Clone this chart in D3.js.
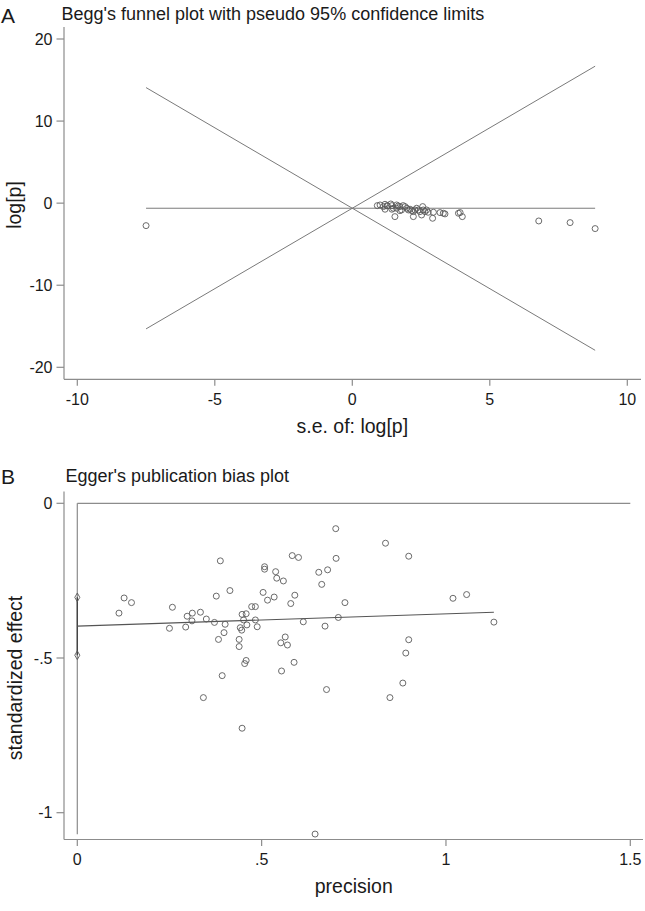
<!DOCTYPE html>
<html><head><meta charset="utf-8">
<script src="https://cdn.jsdelivr.net/npm/d3@7"></script>
<style>
body{margin:0;background:#fff;}
svg text{font-family:"Liberation Sans",Arial,sans-serif;fill:#1a1a1a;}
</style></head>
<body><svg id="c" width="645" height="911"></svg>
<script>
// ---- Panel A: Begg's funnel plot ----
const beggTicksX = [-10, -5, 0, 5, 10];
const beggTicksY = [20, 10, 0, -10, -20];
const beggCenter = -0.62;          // pooled log[p]
const beggSeRange = [-7.5, 8.83];  // extent of funnel lines
const beggSe = [0.91,1.01,1.13,1.19,1.27,1.40,1.44,1.49,1.55,1.61,1.67,1.73,1.79,1.85,1.92,1.98,2.04,2.10,2.16,2.22,2.22,2.28,2.34,2.40,2.46,2.52,2.56,2.58,2.64,2.70,2.76,2.92,2.95,3.19,3.31,3.37,3.86,3.92,4.00,1.44,1.61,1.73,1.19,1.27,6.78,7.92,8.83,-7.5];
const beggLogp = [-0.30,-0.22,-0.42,-0.14,-0.34,-0.10,-0.30,-0.62,-1.64,-0.22,-0.34,-0.42,-0.83,-0.30,-0.42,-0.62,-0.83,-0.74,-0.91,-1.03,-1.64,-0.83,-0.62,-0.83,-1.03,-1.44,-0.42,-0.83,-1.03,-0.83,-1.11,-1.84,-1.11,-1.15,-1.23,-1.31,-1.23,-1.15,-1.64,-0.74,-0.62,-0.91,-0.74,-0.30,-2.17,-2.37,-3.10,-2.74];

// ---- Panel B: Egger's publication bias plot ----
const eggTicksX = [0, 0.5, 1, 1.5];
const eggTickLabelsX = ["0", ".5", "1", "1.5"];
const eggTicksY = [0, -0.5, -1];
const eggTickLabelsY = ["0", "-.5", "-1"];
const eggIntercept = -0.397;
const eggCI = [-0.304, -0.491];
const eggLineEnd = [1.13, -0.352];
const eggRefMin = -1.07;
const eggPrecision = [0.113,0.127,0.147,0.250,0.258,0.294,0.298,0.311,0.312,0.334,0.350,0.372,0.377,0.383,0.388,0.393,0.398,0.401,0.414,0.342,0.439,0.439,0.442,0.446,0.447,0.451,0.454,0.458,0.458,0.460,0.473,0.483,0.483,0.488,0.504,0.508,0.508,0.516,0.534,0.538,0.541,0.552,0.554,0.559,0.564,0.570,0.579,0.583,0.588,0.590,0.600,0.613,0.655,0.663,0.672,0.676,0.679,0.701,0.702,0.708,0.726,0.836,0.899,1.019,1.056,1.130,0.899,0.891,0.883,0.848,0.447,0.645];
const eggEffect = [-0.355,-0.306,-0.321,-0.404,-0.336,-0.400,-0.365,-0.380,-0.355,-0.352,-0.374,-0.385,-0.300,-0.440,-0.186,-0.557,-0.418,-0.391,-0.282,-0.628,-0.440,-0.463,-0.402,-0.410,-0.359,-0.377,-0.518,-0.357,-0.508,-0.393,-0.334,-0.334,-0.377,-0.399,-0.288,-0.205,-0.213,-0.313,-0.303,-0.221,-0.242,-0.451,-0.542,-0.251,-0.432,-0.458,-0.324,-0.169,-0.514,-0.297,-0.175,-0.383,-0.223,-0.262,-0.397,-0.602,-0.215,-0.082,-0.178,-0.369,-0.321,-0.129,-0.171,-0.307,-0.295,-0.384,-0.441,-0.484,-0.581,-0.628,-0.727,-1.069];

const svg = d3.select("#c");
const axisCol = "#8c8c8c", lineCol = "#7a7a7a", ptCol = "#5a5a5a";

function drawAxes(g, x, y, xTicks, xLabels, yTicks, yLabels, box, xTitle, yTitle, yTitleY, yTitleX) {
  g.append("line").attr("x1", box.left).attr("x2", box.left).attr("y1", box.top).attr("y2", box.bottom)
    .attr("stroke", axisCol).attr("stroke-width", 1.2);
  g.append("line").attr("x1", box.left).attr("x2", box.right).attr("y1", box.bottom).attr("y2", box.bottom)
    .attr("stroke", axisCol).attr("stroke-width", 1.2);
  yTicks.forEach((t, i) => {
    g.append("line").attr("x1", box.left - 7.5).attr("x2", box.left).attr("y1", y(t)).attr("y2", y(t))
      .attr("stroke", axisCol).attr("stroke-width", 1.2);
    g.append("text").attr("x", box.left - 11.5).attr("y", y(t)).attr("dy", "0.36em")
      .attr("text-anchor", "end").attr("font-size", 16).text(yLabels[i]);
  });
  xTicks.forEach((t, i) => {
    g.append("line").attr("x1", x(t)).attr("x2", x(t)).attr("y1", box.bottom).attr("y2", box.bottom + 6.5)
      .attr("stroke", axisCol).attr("stroke-width", 1.2);
    g.append("text").attr("x", x(t)).attr("y", box.bottom + 20).attr("dy", "0.36em")
      .attr("text-anchor", "middle").attr("font-size", 16).text(xLabels[i]);
  });
  g.append("text").attr("x", (x(xTicks[0]) + x(xTicks[xTicks.length - 1])) / 2).attr("y", box.bottom + 46.5)
    .attr("dy", "0.36em").attr("text-anchor", "middle").attr("font-size", 19.5).text(xTitle);
  g.append("text").attr("transform", `translate(${yTitleX},${yTitleY}) rotate(-90)`).attr("dy", "0.36em")
    .attr("text-anchor", "middle").attr("font-size", 19.5).text(yTitle);
}

// Panel A
{
  const g = svg.append("g");
  const x = d3.scaleLinear().domain([-10, 10]).range([77.3, 627.3]);
  const y = d3.scaleLinear().domain([20, -20]).range([39, 367.3]);
  const box = {left: 64, right: 641, top: 27, bottom: 379.3};
  g.append("text").attr("x", 1).attr("y", 22.5).attr("font-size", 21).text("A");
  g.append("text").attr("x", 61.5).attr("y", 19.5).attr("font-size", 18)
    .text("Begg's funnel plot with pseudo 95% confidence limits");
  drawAxes(g, x, y, beggTicksX, beggTicksX.map(String), beggTicksY, beggTicksY.map(String), box,
    "s.e. of: log[p]", "log[p]", 205, 13.5);
  const [s0, s1] = beggSeRange;
  const lines = [
    [[s0, beggCenter], [s1, beggCenter]],
    [[s0, beggCenter - 1.96 * s0], [s1, beggCenter - 1.96 * s1]],
    [[s0, beggCenter + 1.96 * s0], [s1, beggCenter + 1.96 * s1]]
  ];
  lines.forEach(l => g.append("line").attr("x1", x(l[0][0])).attr("y1", y(l[0][1]))
    .attr("x2", x(l[1][0])).attr("y2", y(l[1][1])).attr("stroke", lineCol).attr("stroke-width", 1));
  g.selectAll("circle").data(beggSe.map((s, i) => [s, beggLogp[i]])).join("circle")
    .attr("cx", d => x(d[0])).attr("cy", d => y(d[1])).attr("r", 3)
    .attr("fill", "none").attr("stroke", ptCol).attr("stroke-width", 0.9);
}

// Panel B
{
  const g = svg.append("g");
  const x = d3.scaleLinear().domain([0, 1.5]).range([77.3, 630.3]);
  const y = d3.scaleLinear().domain([0, -1]).range([503.3, 812.7]);
  const box = {left: 64, right: 643, top: 491.5, bottom: 839.5};
  g.append("text").attr("x", 1).attr("y", 484).attr("font-size", 21).text("B");
  g.append("text").attr("x", 65.5).attr("y", 481.5).attr("font-size", 18)
    .text("Egger's publication bias plot");
  drawAxes(g, x, y, eggTicksX, eggTickLabelsX, eggTicksY, eggTickLabelsY, box,
    "precision", "standardized effect", 678, 15);
  g.append("line").attr("x1", x(0)).attr("x2", x(1.5)).attr("y1", y(0)).attr("y2", y(0))
    .attr("stroke", axisCol).attr("stroke-width", 1.2);
  g.append("line").attr("x1", x(0)).attr("x2", x(0)).attr("y1", y(0)).attr("y2", y(eggRefMin))
    .attr("stroke", axisCol).attr("stroke-width", 1.2);
  g.append("line").attr("x1", x(0)).attr("x2", x(0)).attr("y1", y(eggCI[0])).attr("y2", y(eggCI[1]))
    .attr("stroke", "#444").attr("stroke-width", 1.4);
  eggCI.forEach(v => g.append("path").attr("d", d3.symbol(d3.symbolDiamond, 22)())
    .attr("transform", `translate(${x(0)},${y(v)})`).attr("fill", "none").attr("stroke", ptCol).attr("stroke-width", 0.9));
  g.append("line").attr("x1", x(0)).attr("y1", y(eggIntercept)).attr("x2", x(eggLineEnd[0])).attr("y2", y(eggLineEnd[1]))
    .attr("stroke", "#555").attr("stroke-width", 1.1);
  g.selectAll("circle").data(eggPrecision.map((p, i) => [p, eggEffect[i]])).join("circle")
    .attr("cx", d => x(d[0])).attr("cy", d => y(d[1])).attr("r", 3)
    .attr("fill", "none").attr("stroke", ptCol).attr("stroke-width", 0.9);
}
</script></body></html>
